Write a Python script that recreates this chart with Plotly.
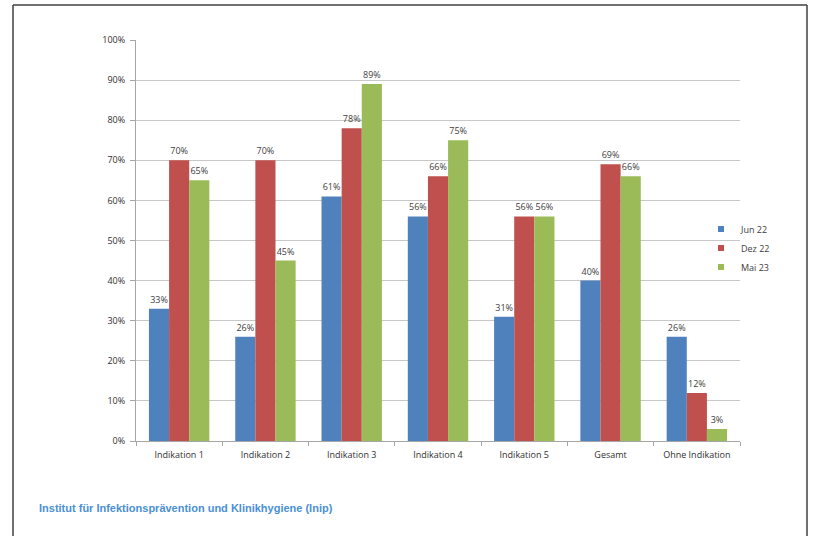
import plotly.graph_objects as go

categories = ["Indikation 1", "Indikation 2", "Indikation 3", "Indikation 4",
              "Indikation 5", "Gesamt", "Ohne Indikation"]
jun22 = [33, 26, 61, 56, 31, 40, 26]
dez22 = [70, 70, 78, 66, 56, 69, 12]
mai23 = [65, 45, 89, 75, 56, 66, 3]
series = [("Jun 22", jun22, "#4F81BD"), ("Dez 22", dez22, "#C0504D"), ("Mai 23", mai23, "#9BBB59")]
yticks = list(range(0, 101, 10))

W, H = 815, 536
L, R, T, B = 136, 75, 40, 95
pw, ph = W - L - R, H - T - B

def px(x):
    return (x - L) / pw

def py(y):
    return (H - B - y) / ph

fig = go.Figure()
for name, vals, col in series:
    fig.add_trace(go.Bar(
        x=categories, y=vals, name=name, marker_color=col,
        marker_line_width=0, showlegend=False, legendgroup=name,
        text=[f"{v}%" for v in vals], textposition="outside",
        textfont=dict(size=9, color="#404040", family="Open Sans"),
        cliponaxis=False, constraintext="none",
    ))
# legend entries with small square swatches
for name, vals, col in series:
    fig.add_trace(go.Scatter(
        x=[None], y=[None], mode="markers", name=name, legendgroup=name,
        marker=dict(symbol="square", size=6, color=col), showlegend=True,
    ))

fig.update_layout(
    width=W, height=H,
    margin=dict(l=L, r=R, t=T, b=B),
    paper_bgcolor="white", plot_bgcolor="white",
    barmode="group", bargap=0.3, bargroupgap=0,
    font=dict(family="Open Sans", size=9, color="#404040"),
    showlegend=True,
    legend=dict(x=px(701), y=py(248), xanchor="left", yanchor="middle",
                bgcolor="rgba(0,0,0,0)", font=dict(size=9, color="#404040"),
                itemwidth=30, tracegroupgap=0),
    xaxis=dict(showgrid=False, showline=True, linecolor="#a6a6a6", linewidth=1,
               ticks="outside", tickson="boundaries", ticklen=4, tickcolor="#a6a6a6",
               ticklabelstandoff=5,
               tickfont=dict(size=9, color="#303030")),
    yaxis=dict(range=[0, 100], tickvals=yticks, ticktext=[f"{v}%" for v in yticks],
               showgrid=True, gridcolor="#c8c8c8", gridwidth=1,
               showline=True, linecolor="#a6a6a6", linewidth=1,
               ticks="outside", ticklen=5, tickcolor="#a6a6a6",
               ticklabelstandoff=3,
               tickfont=dict(size=9, color="#303030"), zeroline=False),
    shapes=[
        dict(type="line", xref="paper", yref="paper", x0=px(13), x1=px(13), y0=py(5), y1=py(H + 5),
             line=dict(color="#404040", width=1.5)),
        dict(type="line", xref="paper", yref="paper", x0=px(13), x1=px(807), y0=py(5), y1=py(5),
             line=dict(color="#404040", width=1.5)),
        dict(type="line", xref="paper", yref="paper", x0=px(807), x1=px(807), y0=py(5), y1=py(H + 5),
             line=dict(color="#404040", width=1.5)),
    ],
    annotations=[
        dict(text="<b>Institut für Infektionsprävention und Klinikhygiene (Inip)</b>",
             xref="paper", yref="paper", x=px(37), y=py(508), xanchor="left", yanchor="middle",
             showarrow=False, font=dict(family="Liberation Sans", size=11, color="#4a90d6")),
    ],
)

fig.write_html("out.html")
